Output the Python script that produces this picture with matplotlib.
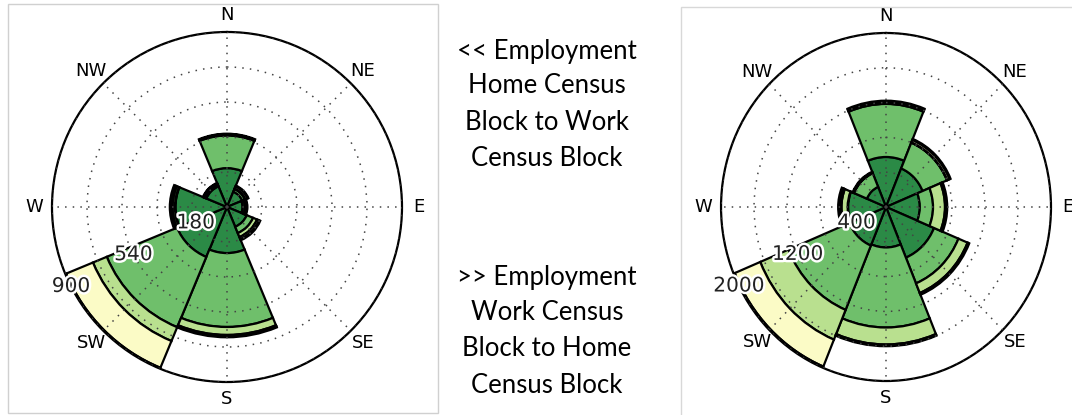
import numpy as np
import matplotlib
matplotlib.use("Agg")
import matplotlib.pyplot as plt
import matplotlib.patheffects as pe
from matplotlib.patches import Rectangle

# Wind-rose style commute direction charts (stacked bins per compass sector)
directions = ["N", "NE", "E", "SE", "S", "SW", "W", "NW"]
bin_colors = ["#2b8a46", "#6fbf6b", "#b9e08f", "#fbfbc6", "#fdf4f0"]

# left: home census block -> work census block
home_bin1 = [200, 85, 80, 110, 237, 278, 265, 115]
home_bin2 = [168, 15, 12, 35, 380, 391, 3, 8]
home_bin3 = [3, 3, 5, 22, 41, 77, 12, 4]
home_bin4 = [3, 12, 4, 12, 6, 149, 6, 4]
home_bin5 = [3, 4, 4, 6, 6, 5, 8, 3]
home_rings = [180, 360, 540, 720, 900]
home_labels = ["180", "", "540", "", "900"]

# right: work census block -> home census block
work_bin1 = [575, 480, 410, 630, 465, 480, 460, 250]
work_bin2 = [610, 320, 160, 320, 920, 800, 5, 170]
work_bin3 = [15, 5, 145, 120, 195, 370, 75, 5]
work_bin4 = [10, 30, 15, 10, 10, 335, 20, 5]
work_bin5 = [12, 12, 12, 12, 10, 15, 20, 8]
work_rings = [400, 800, 1200, 1600, 2000]
work_labels = ["400", "", "1200", "", "2000"]

left_text = ["<< Employment", "Home Census", "Block to Work", "Census Block"]
right_text = [">> Employment", "Work Census", "Block to Home", "Census Block"]


def draw_rose(ax, bins, rings, labels):
    theta = np.radians(np.arange(len(directions)) * 45)
    width = np.radians(45)
    bottom = np.zeros(len(directions))
    for vals, col in zip(bins, bin_colors):
        vals = np.array(vals, dtype=float)
        ax.bar(theta, vals, width=width, bottom=bottom, color=col,
               edgecolor="black", linewidth=1.6, align="center", zorder=1)
        bottom += vals

    ax.set_theta_zero_location("N")
    ax.set_theta_direction(-1)
    ax.set_ylim(0, rings[-1])
    ax.set_rgrids(rings, labels=[""] * len(rings))
    ax.set_thetagrids(np.arange(0, 360, 45), labels=directions, fontsize=13)
    ax.tick_params(axis="x", pad=2)
    ax.set_axisbelow(False)
    ax.grid(True, linestyle=(0, (1, 4)), color="#444444", linewidth=1.1)
    ax.spines["polar"].set_linewidth(1.6)

    # radius labels with a white halo, along the WSW line
    for r, lab in zip(rings, labels):
        if lab:
            ax.text(np.radians(243), r, lab, ha="center", va="center",
                    fontsize=14.5, color="#222222", zorder=10,
                    path_effects=[pe.withStroke(linewidth=3.5, foreground="white")])


fig = plt.figure(figsize=(10.72, 4.15), dpi=100)

ax1 = fig.add_axes([0.0485, 0.0795, 0.3265, 0.8434], projection="polar")
draw_rose(ax1, [home_bin1, home_bin2, home_bin3, home_bin4, home_bin5],
          home_rings, home_labels)

ax2 = fig.add_axes([0.6726, 0.0819, 0.3078, 0.8386], projection="polar")
draw_rose(ax2, [work_bin1, work_bin2, work_bin3, work_bin4, work_bin5],
          work_rings, work_labels)
ax2.set_aspect("auto")

# panel frames
W, H = 1072, 415
fig.add_artist(Rectangle((8 / W, 2 / H), 430 / W, 409 / H, transform=fig.transFigure,
                         fill=False, edgecolor="#d0d0d0", linewidth=1))
fig.add_artist(Rectangle((681 / W, -5 / H), 400 / W, 413 / H, transform=fig.transFigure,
                         fill=False, edgecolor="#d8d8d8", linewidth=1))

# middle caption
for i, line in enumerate(left_text):
    y = [59, 93, 130, 166][i]
    fig.text(547 / W, 1 - y / H, line, ha="center", va="baseline",
             fontsize=18.5, family="Lato", color="black")
for i, line in enumerate(right_text):
    y = [285, 320, 356, 393][i]
    fig.text(547 / W, 1 - y / H, line, ha="center", va="baseline",
             fontsize=18.5, family="Lato", color="black")

fig.savefig("out.png", dpi=100)
